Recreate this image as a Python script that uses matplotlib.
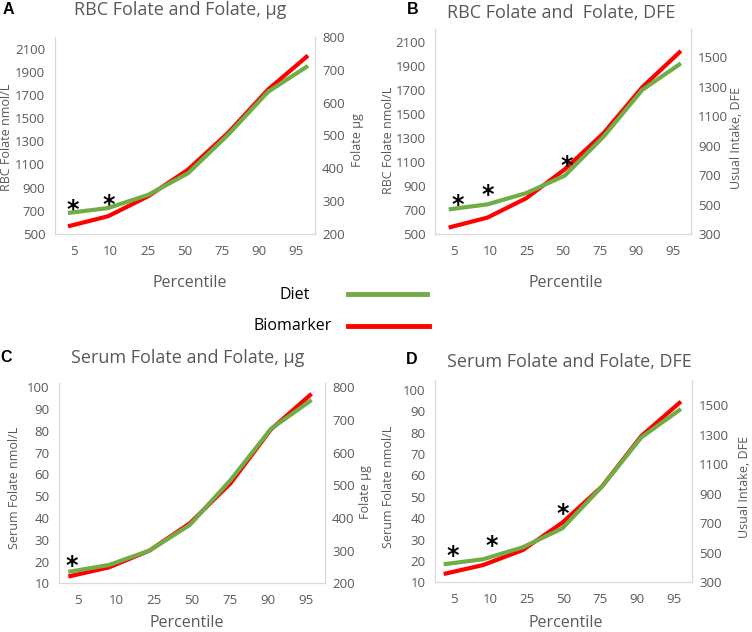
import numpy as np
import matplotlib.pyplot as plt
from matplotlib.lines import Line2D

plt.rcParams['font.family'] = ['Open Sans', 'DejaVu Sans']

W, H = 752, 632

percentiles = ["5", "10", "25", "50", "75", "90", "95"]

# panel A: RBC folate (nmol/L) vs folate intake (ug)
a_bio = [566, 653, 825, 1055, 1372, 1746, 2040]
a_diet = [264, 279, 319, 385, 502, 633, 712]
# panel B: RBC folate vs usual intake DFE
b_bio = [556, 639, 800, 1042, 1342, 1725, 2028]
b_diet = [469, 503, 579, 698, 962, 1279, 1459]
# panel C: serum folate vs folate intake (ug)
c_bio = [13.1, 17.3, 25.0, 37.6, 55.9, 80.7, 97.0]
c_diet = [235, 256, 300, 379, 516, 673, 761]
# panel D: serum folate vs usual intake DFE
d_bio = [13.9, 18.1, 25.1, 37.9, 54.8, 78.5, 94.6]
d_diet = [422, 456, 537, 665, 947, 1281, 1473]

# significance stars (x in line index units, y in biomarker units)
a_stars = [(0.12, 753), (1.02, 796)]
b_stars = [(0.23, 786), (1.0, 869), (3.05, 1106)]
c_stars = [(0.08, 20)]
d_stars = [(0.24, 24.4), (1.21, 29.3), (3.0, 44.3)]

GRAY = "#595959"
SPINE = "#d9d9d9"
RED = "#ff0000"
GREEN = "#70ad47"

fig = plt.figure(figsize=(W / 100, H / 100), dpi=100)


def rect(x0, x1, ytop, ybot):
    return [x0 / W, 1 - ybot / H, (x1 - x0) / W, (ybot - ytop) / H]


def fx(x):
    return x / W


def fy(y):
    return 1 - y / H


def panel(box, bio, diet, lylim, lyticks, rylim, ryticks, linex, stars,
          letter, letter_xy, title, title_xy, lab_l, lab_l_xy, lab_r, lab_r_xy, pct_xy):
    ax = fig.add_axes(rect(*box))
    ax.set_xlim(-0.5, 6.5)
    ax.set_xticks(range(len(percentiles)))
    ax.set_xticklabels(percentiles)
    ax.set_ylim(*lylim)
    ax.set_yticks(lyticks)
    ax.tick_params(length=0, labelsize=9.5, labelcolor=GRAY, pad=7)
    ax.tick_params(axis="x", pad=8)
    for s in ["left", "bottom", "right"]:
        ax.spines[s].set_color(SPINE)
    ax.spines["top"].set_visible(False)

    axr = ax.twinx()
    axr.set_ylim(*rylim)
    axr.set_yticks(ryticks)
    axr.tick_params(length=0, labelsize=9.5, labelcolor=GRAY, pad=5)
    for s in ["left", "bottom", "right"]:
        axr.spines[s].set_color(SPINE)
    axr.spines["top"].set_visible(False)

    xs = np.arange(len(percentiles))
    lb = fig.add_axes(rect(*box), frameon=False)
    lb.set_xlim(*linex)
    lb.set_ylim(*lylim)
    lb.set_xticks([])
    lb.set_yticks([])
    ld = fig.add_axes(rect(*box), frameon=False)
    ld.set_xlim(*linex)
    ld.set_ylim(*rylim)
    ld.set_xticks([])
    ld.set_yticks([])
    lb.plot(xs, bio, color=RED, lw=3, solid_capstyle="butt", zorder=2)
    ld.plot(xs, diet, color=GREEN, lw=3, solid_capstyle="butt", zorder=3)
    for sx, sy in stars:
        lb.annotate("*", (sx, sy), xytext=(0, -3.5), textcoords="offset points",
                    fontsize=17, color="black", ha="center", va="center",
                    family="DejaVu Sans", fontweight="bold")

    fig.text(fx(letter_xy[0]), fy(letter_xy[1]), letter, fontsize=11.5, fontweight="bold",
             family="Liberation Sans", ha="center", va="center")
    fig.text(fx(title_xy[0]), fy(title_xy[1]), title, fontsize=13, color=GRAY,
             ha="center", va="center")
    fig.text(fx(lab_l_xy[0]), fy(lab_l_xy[1]), lab_l, fontsize=9, color=GRAY,
             rotation=90, ha="center", va="center")
    fig.text(fx(lab_r_xy[0]), fy(lab_r_xy[1]), lab_r, fontsize=9, color=GRAY,
             rotation=90, ha="center", va="center")
    fig.text(fx(pct_xy[0]), fy(pct_xy[1]), "Percentile", fontsize=11.5, color=GRAY,
             ha="center", va="center")


rbc_ticks = np.arange(500, 2101, 200)
serum_ticks = np.arange(10, 101, 10)

panel((55, 315, 37, 234), a_bio, a_diet, (500, 2200), rbc_ticks,
      (200, 800), np.arange(200, 801, 100), (-0.325, 6.175), a_stars,
      "A", (8, 10), "RBC Folate and Folate, µg", (180, 10),
      "RBC Folate nmol/L", (7, 137), "Folate µg", (357, 140), (190, 283))

panel((435.3, 691, 29.3, 234.3), b_bio, b_diet, (500, 2208), rbc_ticks,
      (300, 1690), np.arange(300, 1501, 200), (-0.346, 6.26), b_stars,
      "B", (413, 10), "RBC Folate and  Folate, DFE", (561, 13),
      "RBC Folate nmol/L", (388, 140), "Usual Intake, DFE", (736, 138), (566, 283))

panel((59.3, 325, 383.3, 583.3), c_bio, c_diet, (10, 101.8), serum_ticks,
      (200, 812), np.arange(200, 801, 100), (-0.222, 6.33), c_stars,
      "C", (6, 357), "Serum Folate and Folate, µg", (188, 358),
      "Serum Folate nmol/L", (15, 488), "Folate µg", (365, 492), (187, 623))

panel((435.3, 692, 380, 582.3), d_bio, d_diet, (10, 104.7), serum_ticks,
      (300, 1669), np.arange(300, 1501, 200), (-0.212, 6.28), d_stars,
      "D", (412, 360), "Serum Folate and Folate, DFE", (569, 362),
      "Serum Folate nmol/L", (388, 487), "Usual Intake, DFE", (744, 487), (566, 623))

# legend
fig.text(fx(295), fy(295), "Diet", fontsize=11.5, ha="center", va="center")
fig.text(fx(293), fy(326), "Biomarker", fontsize=11.5, ha="center", va="center")
fig.add_artist(Line2D([fx(348), fx(427)], [fy(294), fy(294)], color=GREEN, lw=3.5))
fig.add_artist(Line2D([fx(348), fx(429)], [fy(326), fy(326)], color=RED, lw=3.5))

fig.savefig("out.png", dpi=100)
